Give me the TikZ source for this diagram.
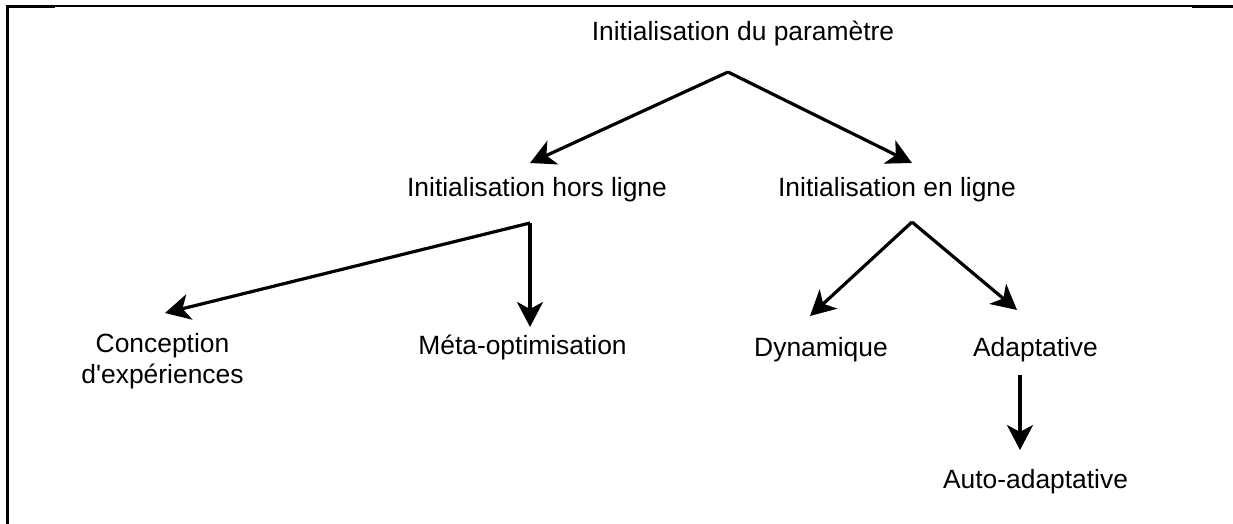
\documentclass[tikz,border=0pt]{standalone}
\usepackage{fontspec}
\setmainfont{Liberation Sans}
\usetikzlibrary{arrows.meta}
\begin{document}
\begin{tikzpicture}[x=1pt,y=-1pt,
  lbl/.style={font=\fontsize{26.4}{31}\selectfont, inner sep=0pt, anchor=base},
  arr/.style={line width=3.2pt, -{Stealth[length=25pt,width=26pt,inset=7pt]}},
  frameline/.style={line width=1.2pt},
  framethick/.style={line width=2.4pt}]
\useasboundingbox (0,0) rectangle (1233,524);

% page frame: top rule and left rule
\draw[frameline] (7,6) -- (1233,6);
\draw[framethick] (7,6.5) -- (55,6.5);
\draw[framethick] (1192,6.5) -- (1233,6.5);
\draw[framethick] (7.5,5.5) -- (7.5,524);

% labels (placed by their baselines)
\node[lbl] (root) at (743,41) {Initialisation du paramètre};
\node[lbl] (hl)   at (537,196) {Initialisation hors ligne};
\node[lbl] (el)   at (897,196) {Initialisation en ligne};
\node[lbl, align=center] (ce) at (162.5,383) {Conception\\d\textquotesingle expériences};
\node[lbl] (mo)   at (522.5,354) {Méta-optimisation};
\node[lbl] (dy)   at (821,356) {Dynamique};
\node[lbl] (ad)   at (1035.5,356) {Adaptative};
\node[lbl] (aa)   at (1035.5,488) {Auto-adaptative};

% branching points below the parent labels
\coordinate (b0) at ([shift={(-15,31)}]root.base);
\coordinate (b1) at ([shift={(-7,27)}]hl.base);
\coordinate (b2) at ([shift={(15,26)}]el.base);
\coordinate (b3) at ([shift={(-15.5,19)}]ad.base);

% arrow tips above the child labels
\coordinate (mo-in) at ([shift={(0,-27)}]mo.base);
\coordinate (aa-in) at ([shift={(0,-38)}]aa.base);

% connectors
\draw[arr] (b0) -- ([shift={(-7,-33)}]hl.base);
\draw[arr] (b0) -- ([shift={(15,-33)}]el.base);
\draw[arr] (b1) -- ([shift={(2.5,-70)}]ce.base);
\draw[arr] (b1) -- (b1 |- mo-in);
\draw[arr] (b2) -- ([shift={(-11,-40)}]dy.base);
\draw[arr] (b2) -- ([shift={(-18.5,-46)}]ad.base);
\draw[arr] (b3) -- (b3 |- aa-in);
\end{tikzpicture}
\end{document}
